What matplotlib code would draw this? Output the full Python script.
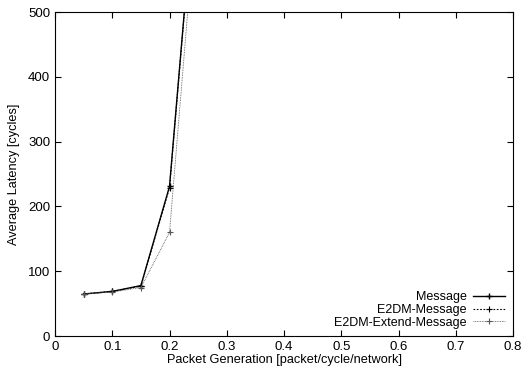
import matplotlib.pyplot as plt

plt.rcParams['font.family'] = ['Liberation Sans', 'DejaVu Sans']

gen = [0.05, 0.1, 0.15, 0.2, 0.25]
lat_msg = [65, 69, 78, 231, 752]
lat_e2dm = [65, 69, 77, 229, 748]
lat_ext = [65, 68, 75, 160, 695]

fig = plt.figure(figsize=(5.24, 3.76), dpi=100)
ax = fig.add_axes([0.105, 0.106, 0.874, 0.862])

ax.plot(gen, lat_msg, label='Message', color="black", lw=1.0, marker="+", ms=5, mew=1.0)
ax.plot(gen, lat_e2dm, label='E2DM-Message', color="black", lw=0.8, ls=(0, (1.5, 1.5)), marker="+", ms=5, mew=0.8)
ax.plot(gen, lat_ext, label='E2DM-Extend-Message', color="#555555", lw=0.6, ls=(0, (1, 1)), marker="+", ms=5, mew=0.8)

ax.set_xlim([0, 0.8])
ax.set_ylim([0, 500])
ax.set_xticks([0, 0.1, 0.2, 0.3, 0.4, 0.5, 0.6, 0.7, 0.8])
ax.set_xticklabels(["0", "0.1", "0.2", "0.3", "0.4", "0.5", "0.6", "0.7", "0.8"])
ax.set_yticks([0, 100, 200, 300, 400, 500])
ax.tick_params(direction='in', top=True, right=True, length=4, labelsize=9.5)
ax.set_xlabel("Packet Generation [packet/cycle/network]", fontsize=9.2, labelpad=1)
ax.set_ylabel("Average Latency [cycles]", fontsize=9.2, labelpad=6)
ax.legend(loc='lower right', frameon=False, markerfirst=False, fontsize=9,
          handlelength=2.6, labelspacing=0.05, borderaxespad=0.2, handletextpad=0.5)

fig.savefig("out.png")
